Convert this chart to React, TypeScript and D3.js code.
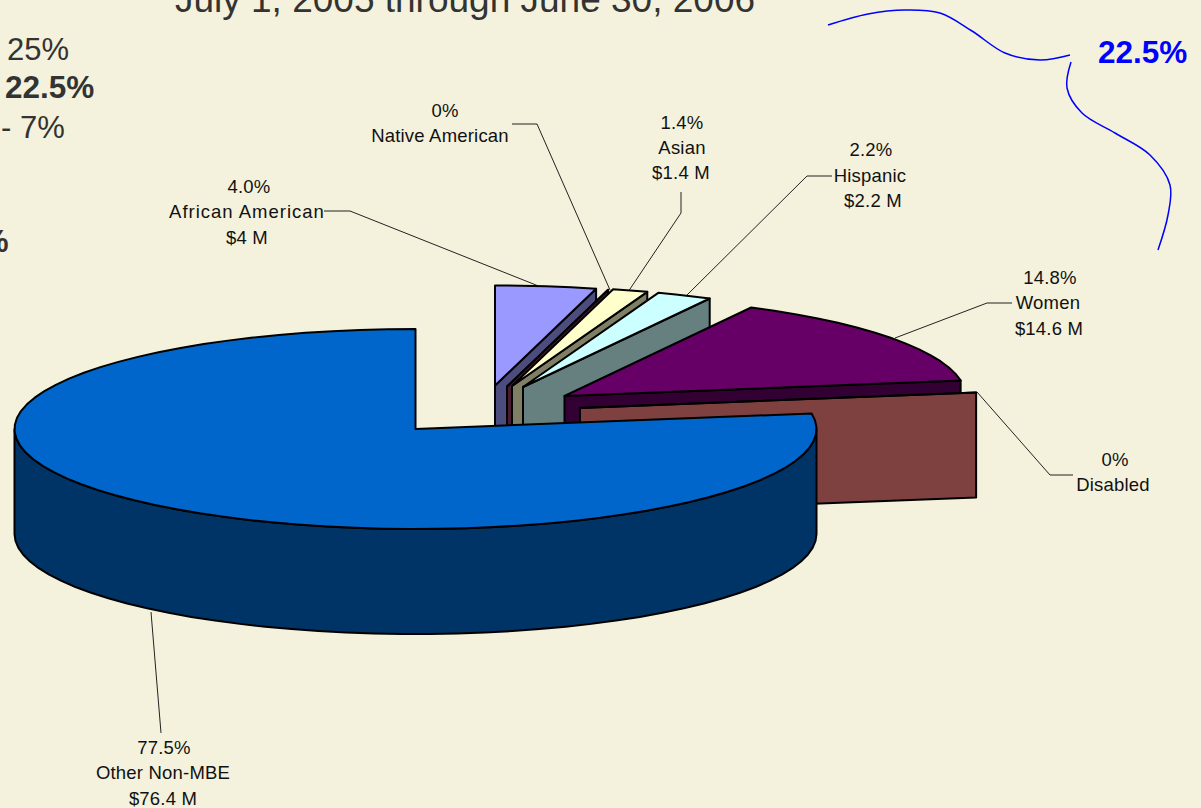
import React from "react";
import * as d3 from "d3";

// ---- data ----
const categories = ["African American", "Native American", "Asian", "Hispanic", "Women", "Disabled", "Other Non-MBE"];
const valuesM = [4, 0, 1.4, 2.2, 14.6, 0, 76.4];
const percentLabels = ["4.0%", "0%", "1.4%", "2.2%", "14.8%", "0%", "77.5%"];
const amountLabels = ["$4 M", "", "$1.4 M", "$2.2 M", "$14.6 M", "", "$76.4 M"];

// ---- presentation ----
const W = 1201, H = 808;
const RX = 401, RY = 100, DEPTH = 105;
const BG = "#F4F2DC";
const topColors = ["#9999FF", "#993366", "#FFFFCC", "#CCFFFF", "#660066", "#FF8080", "#0066CC"];
const wallColors = ["#4C4C7F", "#4C1933", "#7F7F66", "#667F7F", "#330033", "#7F4040", "#003366"];
const apexX = [495, 507, 512, 523, 564.5, 580, 415.5];
const apexY = [385.5, 386.5, 386, 387, 396, 408, 429];

const labelTextX = [[249, 247, 247], [445, 440], [682, 682, 681], [871, 870, 873], [1050, 1048, 1049], [1115, 1113], [164, 163, 163]];
const labelTextY = [[193, 218, 244], [117, 142], [129, 154, 179], [156, 182, 207], [284, 309, 335], [466, 491], [754, 779, 805]];
const nameSpacing = [1, 0.2, 0.2, 0.2, 0.2, 0.2, 0.2];
const leaders: [number, number][][] = [
  [[324, 211], [350, 211], [541, 287]],
  [[512, 124], [537, 124], [610, 290]],
  [[681, 192], [681, 213], [628, 292]],
  [[832, 176], [807, 176], [687, 295]],
  [[1012, 303], [987, 303], [895, 338]],
  [[1073, 475], [1050, 475], [977, 392]],
  [[151, 612], [161, 733]],
];
const calloutA: [number, number][] = [[828, 25], [868, 14], [905, 10], [940, 13], [972, 31], [1005, 53], [1040, 60], [1070, 55]];
const calloutB: [number, number][] = [[1071, 62], [1067, 88], [1082, 113], [1115, 133], [1150, 155], [1170, 185], [1168, 215], [1158, 250]];

const pie = d3.pie<number>().sort(null).startAngle(0).endAngle(2 * Math.PI);
const arcs = pie(valuesM);
const line = d3.line();
const curve = d3.line().curve(d3.curveCatmullRom.alpha(0.5));

const STEP = (4 * Math.PI) / 180;
function samples(a0: number, a1: number): number[] {
  if (a1 <= a0) return [a0];
  const n = Math.max(1, Math.ceil((a1 - a0) / STEP));
  return d3.range(n + 1).map((i) => a0 + ((a1 - a0) * i) / n);
}
const px = (cx: number, a: number) => cx + RX * Math.sin(a);
const py = (cy: number, a: number) => cy - RY * Math.cos(a);

function topPath(i: number): string {
  const { startAngle, endAngle } = arcs[i];
  const cx = apexX[i], cy = apexY[i];
  const pts: [number, number][] = [[cx, cy], ...samples(startAngle, endAngle).map((a) => [px(cx, a), py(cy, a)] as [number, number])];
  return line(pts)! + "Z";
}
function endWallPath(i: number): string {
  const a = arcs[i].endAngle;
  const cx = apexX[i], cy = apexY[i];
  const ox = px(cx, a), oy = py(cy, a);
  return line([[cx, cy], [ox, oy], [ox, oy + DEPTH], [cx, cy + DEPTH]])! + "Z";
}
function rimWallPath(i: number): string | null {
  const a0 = Math.max(arcs[i].startAngle, Math.PI / 2);
  const a1 = Math.min(arcs[i].endAngle, (3 * Math.PI) / 2);
  if (a1 <= a0) return null;
  const cx = apexX[i], cy = apexY[i];
  const s = samples(a0, a1);
  const upper = s.map((a) => [px(cx, a), py(cy, a)] as [number, number]);
  const lower = s.slice().reverse().map((a) => [px(cx, a), py(cy, a) + DEPTH] as [number, number]);
  return line([...upper, ...lower])! + "Z";
}

const labelFont = "'Liberation Sans', Arial, sans-serif";

export default function App() {
  return (
    <svg width={W} height={H} viewBox={`0 0 ${W} ${H}`} style={{ position: "fixed", left: 0, top: 0, display: "block" }}>
      <rect width={W} height={H} fill={BG} />

      <g fontFamily={labelFont} fill="#333333">
        <text x={465} y={12} textAnchor="middle" fontSize={37}>July 1, 2005 through June 30, 2006</text>
        <text x={7} y={60} fontSize={31}>25%</text>
        <text x={5} y={98} fontSize={31.5} fontWeight="bold">22.5%</text>
        <text x={1} y={138} fontSize={31}>- 7%</text>
        <text x={-19} y={252} fontSize={31} fontWeight="bold">%</text>
      </g>
      <text x={1098} y={63} fontFamily={labelFont} fontSize={31.5} fontWeight="bold" fill="#0000FF">22.5%</text>
      <path d={curve(calloutA)!} fill="none" stroke="#0000FF" strokeWidth={1.5} />
      <path d={curve(calloutB)!} fill="none" stroke="#0000FF" strokeWidth={1.5} />

      {leaders.map((l, i) => (
        <path key={i} d={line(l)!} fill="none" stroke="#222222" strokeWidth={1} />
      ))}

      <g stroke="#000000" strokeWidth={2} strokeLinejoin="round">
        {categories.map((c, i) => {
          const rim = rimWallPath(i);
          return (
            <g key={c}>
              {i < categories.length - 1 && <path d={endWallPath(i)} fill={wallColors[i]} />}
              {rim && <path d={rim} fill={wallColors[i]} />}
              <path d={topPath(i)} fill={topColors[i]} />
            </g>
          );
        })}
      </g>

      <g fontFamily={labelFont} fontSize={18.5} fill="#111111" textAnchor="middle">
        {categories.map((c, i) => {
          const rows = [percentLabels[i], c, amountLabels[i]].filter((t) => t !== "");
          return rows.map((t, j) => (
            <text key={c + j} x={labelTextX[i][j]} y={labelTextY[i][j]} letterSpacing={t === c ? nameSpacing[i] : 0.2}>{t}</text>
          ));
        })}
      </g>
    </svg>
  );
}
